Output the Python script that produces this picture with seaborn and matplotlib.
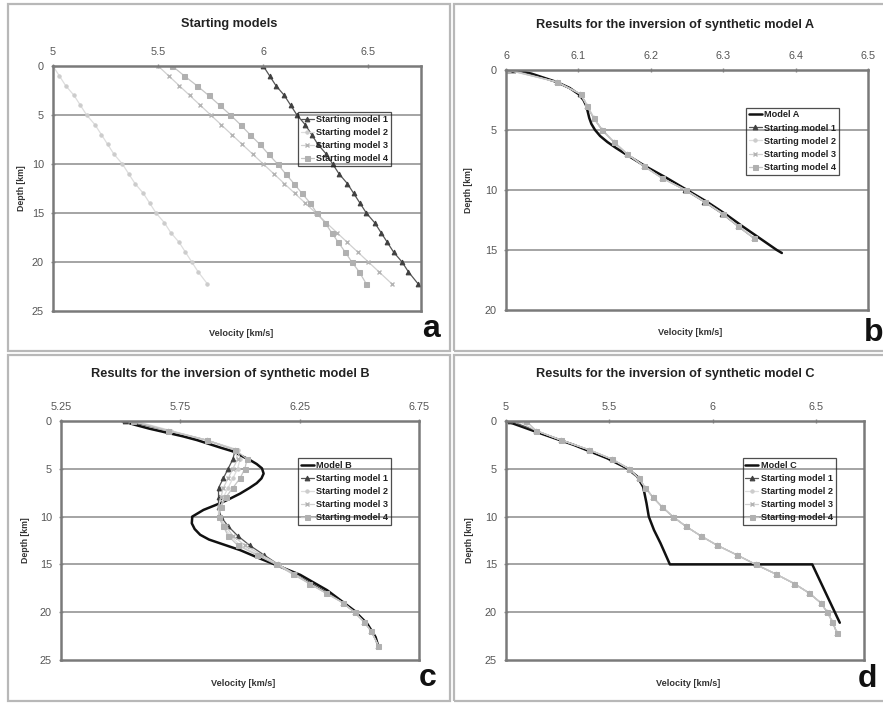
import matplotlib
matplotlib.use("Agg")
import matplotlib.pyplot as plt
import seaborn as sns
import pandas as pd
from matplotlib.patches import Rectangle

# ---------------- data ----------------
legend_labels = ["Starting model 1", "Starting model 2", "Starting model 3", "Starting model 4"]

# Panel a: starting models
a_depth = [0, 1, 2, 3, 4, 5, 6, 7, 8, 9, 10, 11, 12, 13, 14, 15, 16, 17, 18, 19, 20, 21, 22.2]
a_sm1 = [6.00, 6.03, 6.06, 6.10, 6.13, 6.16, 6.20, 6.23, 6.26, 6.30, 6.33, 6.36, 6.40, 6.43, 6.46,
         6.49, 6.53, 6.56, 6.59, 6.62, 6.66, 6.69, 6.735]
a_sm2 = [5.00, 5.03, 5.06, 5.10, 5.13, 5.16, 5.20, 5.23, 5.26, 5.29, 5.33, 5.36, 5.39, 5.43, 5.46,
         5.49, 5.53, 5.56, 5.60, 5.63, 5.66, 5.69, 5.733]
a_sm3 = [5.50, 5.55, 5.60, 5.65, 5.70, 5.75, 5.80, 5.85, 5.90, 5.95, 6.00, 6.05, 6.10, 6.15, 6.20,
         6.25, 6.30, 6.35, 6.40, 6.45, 6.50, 6.55, 6.61]
a_sm4 = [5.567, 5.624, 5.684, 5.740, 5.792, 5.844, 5.892, 5.937, 5.984, 6.025, 6.068, 6.106, 6.146,
         6.184, 6.224, 6.254, 6.294, 6.325, 6.357, 6.390, 6.421, 6.456, 6.489]

# Panel b: synthetic model A and inversion results
b_model_depth = [0, 0.1, 0.3, 0.6, 1.0, 1.5, 2.0, 2.5, 3.0, 3.5, 4.0, 4.5, 5.0, 5.5, 6.0, 6.5, 7.0,
                 8.0, 9.0, 10.0, 11.0, 12.0, 13.0, 14.0, 15.0, 15.25]
b_model_vel = [6.003, 6.02, 6.035, 6.05, 6.07, 6.088, 6.100, 6.107, 6.111, 6.113, 6.115, 6.118, 6.123,
               6.130, 6.140, 6.152, 6.165, 6.192, 6.222, 6.250, 6.278, 6.303, 6.326, 6.350, 6.374, 6.381]
b_depth = [0, 1, 2, 3, 4, 5, 6, 7, 8, 9, 10, 11, 12, 13, 14]
b_sm1 = [6.010, 6.070, 6.102, 6.112, 6.121, 6.133, 6.149, 6.167, 6.190, 6.216, 6.247, 6.274, 6.299, 6.320, 6.342]
b_sm2 = [6.003, 6.071, 6.103, 6.113, 6.121, 6.133, 6.150, 6.167, 6.191, 6.215, 6.248, 6.275, 6.300, 6.321, 6.342]
b_sm3 = [6.004, 6.070, 6.103, 6.112, 6.122, 6.132, 6.149, 6.168, 6.190, 6.215, 6.248, 6.275, 6.300, 6.320, 6.343]
b_sm4 = [6.002, 6.070, 6.103, 6.112, 6.121, 6.133, 6.149, 6.167, 6.190, 6.215, 6.248, 6.275, 6.300, 6.320, 6.342]

# Panel c: synthetic model B and inversion results
c_model_depth = [0, 0.4, 0.8, 1.2, 1.6, 2.0, 2.4, 2.8, 3.2, 3.7, 4.1, 4.5, 4.95, 5.5, 6.0, 6.5, 7.0,
                 7.6, 8.1, 8.6, 9.3, 10.0, 10.7, 11.3, 11.9, 12.4, 12.8, 13.5, 14.4, 15.1, 16.1,
                 17.7, 19.8, 21.2, 22.6, 23.6]
c_model_vel = [5.505, 5.56, 5.62, 5.69, 5.76, 5.82, 5.87, 5.92, 5.973, 6.01, 6.043, 6.07, 6.092, 6.099,
               6.09, 6.07, 6.04, 6.00, 5.96, 5.917, 5.847, 5.80, 5.798, 5.81, 5.833, 5.87, 5.917,
               6.00, 6.085, 6.155, 6.253, 6.365, 6.477, 6.533, 6.568, 6.58]
c_depth = [0, 1, 2, 3, 4, 5, 6, 7, 8, 9, 10, 11, 12, 13, 14, 15, 16, 17, 18, 19, 20, 21, 22, 23.5]
c_sm1 = [5.52, 5.70, 5.86, 5.98, 5.97, 5.95, 5.93, 5.91, 5.91, 5.91, 5.92, 5.95, 5.99, 6.04, 6.10,
         6.16, 6.23, 6.30, 6.37, 6.43, 6.48, 6.52, 6.55, 6.58]
c_sm2 = [5.56, 5.71, 5.86, 5.99, 6.00, 5.99, 5.97, 5.95, 5.93, 5.92, 5.91, 5.93, 5.96, 6.00, 6.08,
         6.16, 6.22, 6.29, 6.36, 6.43, 6.48, 6.52, 6.55, 6.58]
c_sm3 = [5.54, 5.70, 5.86, 5.98, 5.99, 5.97, 5.95, 5.93, 5.92, 5.91, 5.91, 5.94, 5.97, 6.02, 6.09,
         6.16, 6.23, 6.29, 6.36, 6.43, 6.48, 6.52, 6.55, 6.58]
c_sm4 = [5.55, 5.70, 5.86, 5.98, 6.03, 6.02, 6.00, 5.97, 5.94, 5.92, 5.91, 5.93, 5.95, 5.99, 6.07,
         6.15, 6.22, 6.29, 6.36, 6.43, 6.48, 6.52, 6.55, 6.58]

# Panel d: synthetic model C and inversion results
d_model_depth = [0, 1.29, 2.5, 3.9, 4.95, 5.8, 6.9, 8.6, 10.0, 11.4, 12.8, 15.0, 15.0, 21.1]
d_model_vel = [5.0, 5.166, 5.327, 5.489, 5.585, 5.634, 5.663, 5.679, 5.69, 5.715, 5.747, 5.792, 6.48, 6.613]
d_depth = [0, 1, 2, 3, 4, 5, 6, 7, 8, 9, 10, 11, 12, 13, 14, 15, 16, 17, 18, 19, 20, 21, 22.2]
d_sm1 = [5.02, 5.145, 5.266, 5.400, 5.513, 5.594, 5.642, 5.674, 5.711, 5.755, 5.806, 5.868, 5.940,
         6.020, 6.115, 6.206, 6.303, 6.392, 6.465, 6.520, 6.553, 6.577, 6.600]
d_sm2 = [5.097, 5.145, 5.266, 5.400, 5.513, 5.594, 5.642, 5.674, 5.711, 5.755, 5.806, 5.868, 5.940,
         6.020, 6.115, 6.206, 6.303, 6.392, 6.465, 6.520, 6.553, 6.577, 6.600]
d_sm3 = [5.06, 5.145, 5.266, 5.400, 5.513, 5.594, 5.642, 5.674, 5.711, 5.755, 5.806, 5.868, 5.940,
         6.020, 6.115, 6.206, 6.303, 6.392, 6.465, 6.520, 6.553, 6.577, 6.600]
d_sm4 = [5.097, 5.145, 5.266, 5.400, 5.513, 5.594, 5.642, 5.674, 5.711, 5.755, 5.806, 5.868, 5.940,
         6.020, 6.115, 6.206, 6.303, 6.392, 6.465, 6.520, 6.553, 6.577, 6.600]

# ---------------- style ----------------
sns.set_theme(style="white")
plt.rcParams["font.family"] = ["Liberation Sans", "DejaVu Sans"]

W, H = 883, 707
fig = plt.figure(figsize=(W / 100, H / 100), dpi=100)
fig.patch.set_facecolor("white")


def fx(px):
    return px / W


def fy(py):
    return 1 - py / H


# panel borders
for (x0, y0, x1, y1) in [(8, 4, 450, 351), (454, 4, 890, 351), (8, 355, 450, 701), (454, 355, 890, 701)]:
    fig.add_artist(Rectangle((fx(x0), fy(y1)), fx(x1) - fx(x0), fy(y0) - fy(y1),
                             transform=fig.transFigure, fill=False, edgecolor="#b8b8b8", lw=1.6))

series_styles = [
    dict(color="#555555", marker="^", markersize=3.4, lw=0.9, linestyle="-",
         markerfacecolor="#404040", markeredgecolor="#404040"),
    dict(color="#dddddd", marker="o", markersize=2.4, lw=0.9, linestyle="-",
         markerfacecolor="#cccccc", markeredgecolor="#cccccc"),
    dict(color="#d0d0d0", marker="x", markersize=3, lw=0.9, linestyle="-", markeredgewidth=1.0,
         markeredgecolor="#b4b4b4"),
    dict(color="#c4c4c4", marker="s", markersize=3.6, lw=0.9, linestyle="-",
         markerfacecolor="#b0b0b0", markeredgecolor="#b0b0b0"),
]


def make_axes(l, t, r, b):
    return fig.add_axes([fx(l), fy(b), fx(r) - fx(l), fy(t) - fy(b)])


def style_axes(ax, xlim, xticks, xticklabels, ylim, yticks):
    ax.set_xlim(*xlim)
    ax.set_ylim(*ylim)
    ax.set_xticks(xticks)
    ax.set_xticklabels(xticklabels)
    ax.set_yticks(yticks)
    ax.set_yticklabels([str(v) for v in yticks])
    ax.xaxis.tick_top()
    ax.tick_params(axis="both", labelsize=7.8, labelcolor="#555555", color="#888888",
                   length=3, width=1, direction="inout", pad=5)
    ax.tick_params(axis="x", top=True, bottom=False)
    ax.tick_params(axis="y", left=True)
    for s in ax.spines.values():
        s.set_color("#7a7a7a")
        s.set_linewidth(1.8)
    ax.grid(False)
    for yv in yticks[1:-1]:
        ax.axhline(yv, color="#8c8c8c", lw=1.1, zorder=0)
    ax.set_xlabel("")
    ax.set_ylabel("")


def add_series(ax, xs, ys, label, style):
    df = pd.DataFrame({"v": xs, "z": ys})
    sns.lineplot(data=df, x="v", y="z", sort=False, estimator=None, ax=ax, label=label, **style)


def add_legend(ax, l, t):
    leg = ax.legend(loc="upper left", bbox_to_anchor=(l, t), prop=dict(size=6.6, weight="bold"),
                    handlelength=1.4, handletextpad=0.3, labelspacing=0.45, borderpad=0.3,
                    borderaxespad=0, fancybox=False)
    fr = leg.get_frame()
    fr.set_facecolor("none")
    fr.set_edgecolor("#222222")
    fr.set_linewidth(0.9)
    for t_ in leg.get_texts():
        t_.set_color("#222222")


def add_texts(title, tx, ty, ylab_x, ylab_y, xlab_x, xlab_y, letter, lx, ly):
    fig.text(fx(tx), fy(ty), title, ha="center", va="center", fontsize=9.2, fontweight="bold", color="#222222")
    fig.text(fx(ylab_x), fy(ylab_y), "Depth [km]", ha="center", va="center", rotation=90,
             fontsize=6.3, fontweight="bold", color="#333333")
    fig.text(fx(xlab_x), fy(xlab_y), "Velocity [km/s]", ha="center", va="center",
             fontsize=6.6, fontweight="bold", color="#333333")
    fig.text(fx(lx), fy(ly), letter, ha="center", va="center", fontsize=23, fontweight="bold", color="#111111")


model_style = dict(color="#111111", lw=1.8, linestyle="-")

# ---- panel a ----
ax = make_axes(53, 66, 421, 311)
for xs, lab, st in zip([a_sm1, a_sm2, a_sm3, a_sm4], legend_labels, series_styles):
    add_series(ax, xs, a_depth, lab, st)
style_axes(ax, (5, 6.75), [5, 5.5, 6, 6.5], ["5", "5.5", "6", "6.5"], (25, 0), [0, 5, 10, 15, 20, 25])
add_legend(ax, 0.666, 0.812)
add_texts("Starting models", 229, 24, 22, 188, 241, 334, "a", 431, 329)

# ---- panel b ----
ax = make_axes(506, 70, 868, 310)
add_series(ax, b_model_vel, b_model_depth, "Model A", model_style)
for xs, lab, st in zip([b_sm1, b_sm2, b_sm3, b_sm4], legend_labels, series_styles):
    add_series(ax, xs, b_depth, lab, st)
style_axes(ax, (6, 6.5), [6, 6.1, 6.2, 6.3, 6.4, 6.5], ["6", "6.1", "6.2", "6.3", "6.4", "6.5"],
           (20, 0), [0, 5, 10, 15, 20])
add_legend(ax, 0.663, 0.843)
add_texts("Results for the inversion of synthetic model A", 675, 25, 469, 190, 690, 333, "b", 874, 333)

# ---- panel c ----
ax = make_axes(61, 421, 419, 660)
add_series(ax, c_model_vel, c_model_depth, "Model B", model_style)
for xs, lab, st in zip([c_sm1, c_sm2, c_sm3, c_sm4], legend_labels, series_styles):
    add_series(ax, xs, c_depth, lab, st)
style_axes(ax, (5.25, 6.75), [5.25, 5.75, 6.25, 6.75], ["5.25", "5.75", "6.25", "6.75"],
           (25, 0), [0, 5, 10, 15, 20, 25])
add_legend(ax, 0.662, 0.845)
add_texts("Results for the inversion of synthetic model B", 230, 374, 25, 540, 243, 683, "c", 428, 678)

# ---- panel d ----
ax = make_axes(506, 421, 864, 660)
add_series(ax, d_model_vel, d_model_depth, "Model C", model_style)
for xs, lab, st in zip([d_sm1, d_sm2, d_sm3, d_sm4], legend_labels, series_styles):
    add_series(ax, xs, d_depth, lab, st)
style_axes(ax, (5, 6.73), [5, 5.5, 6, 6.5], ["5", "5.5", "6", "6.5"], (25, 0), [0, 5, 10, 15, 20, 25])
add_legend(ax, 0.661, 0.845)
add_texts("Results for the inversion of synthetic model C", 675, 374, 470, 540, 688, 683, "d", 867, 679)

fig.savefig("out.png", dpi=100, facecolor="white")
